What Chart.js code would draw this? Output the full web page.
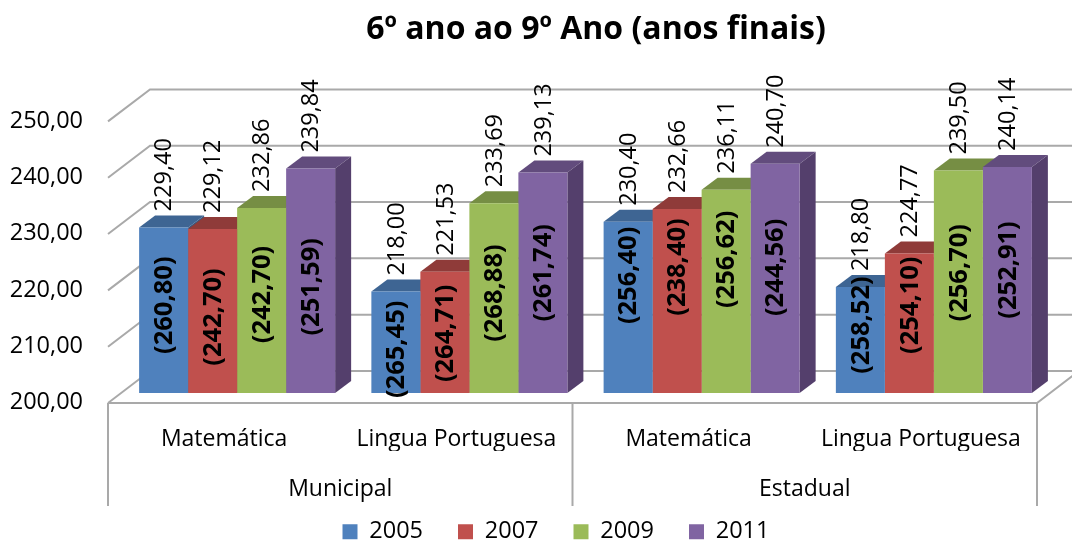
<!DOCTYPE html>
<html><head><meta charset="utf-8">
<style>html,body{margin:0;padding:0;background:#fff}canvas{display:block}</style>
<script src="https://cdn.jsdelivr.net/npm/chart.js@4"></script>
</head><body><canvas id="c" width="1072" height="542"></canvas>
<script>
const subjects = ["Matemática","Lingua Portuguesa","Matemática","Lingua Portuguesa"];
const networks = ["Municipal","Estadual"];
const years = ["2005","2007","2009","2011"];
const values2005 = [229.40,218.00,230.40,218.80];
const values2007 = [229.12,221.53,232.66,224.77];
const values2009 = [232.86,233.69,236.11,239.50];
const values2011 = [239.84,239.13,240.70,240.14];
const notes2005 = [260.80,265.45,256.40,258.52];
const notes2007 = [242.70,264.71,238.40,254.10];
const notes2009 = [242.70,268.88,256.62,256.70];
const notes2011 = [251.59,261.74,244.56,252.91];
const titleText = "6º ano ao 9º Ano (anos finais)";

const FONT = '"Open Sans"';
const fronts = ["#4f81bd","#c0504d","#9bbb59","#8064a2"];
const tops   = ["#3e6593","#8f3b39","#768e44","#624c7d"];
const sides  = ["#375a83","#7f3533","#66793a","#543f6c"];
const DX=16, DY=12, GRID="#a9a9a9";
const notes=[notes2005,notes2007,notes2009,notes2011];
// vertical placement of the bracketed labels relative to the bar's centre (px)
const noteShift=[[-5,7,-32,-15],[6,1,-34,-18],[-6,-5,-32,-9],[6,-10,-11,-10]];
const fmt=v=>Number(v).toFixed(2).replace('.',',');

const depth={
  id:'depth',
  beforeLayout(chart){
    const l=chart.legend;
    if(!l.__wrapped){
      l.__wrapped=true;
      const f=l.fit;
      l.fit=function(){f.call(this); this.height=35;};
    }
  },
  afterLayout(chart){
    chart.titleBlock.left+=71; chart.titleBlock.right+=71;
    chart.titleBlock.top+=1; chart.titleBlock.bottom+=1;
    chart.legend.left+=31; chart.legend.right+=31;
    chart.legend.top-=22; chart.legend.bottom=chart.height;
  },
  beforeDatasetsDraw(chart){
    const c=chart.ctx, y=chart.scales.y, x=chart.scales.x;
    const fx=x.left-13, bx=fx+42, fd=10, bd=-22;
    c.save();
    c.strokeStyle=GRID; c.lineWidth=2;
    y.ticks.forEach(t=>{
      const p=y.getPixelForValue(t.value);
      c.beginPath(); c.moveTo(fx,p+fd); c.lineTo(bx,p+bd);
      if(t.value>y.min) c.lineTo(chart.width,p+bd);
      c.stroke();
    });
    const base=y.getPixelForValue(y.min)+fd;
    const rx=fx+x.width;
    c.beginPath(); c.moveTo(fx,base); c.lineTo(rx,base); c.lineTo(rx+42,base-32); c.stroke();
    c.beginPath(); c.moveTo(bx,base-32); c.lineTo(chart.width,base-32); c.stroke();
    [0,0.5,1].forEach(f=>{
      const vx=fx+x.width*f;
      c.beginPath(); c.moveTo(vx,base); c.lineTo(vx,506); c.stroke();
    });
    for(let i=0;i<subjects.length;i++){
      chart.data.datasets.forEach((d,s)=>{
        const b=chart.getDatasetMeta(s).data[i];
        const l=b.x-b.width/2, r=b.x+b.width/2;
        c.fillStyle=tops[s];
        c.beginPath(); c.moveTo(l,b.y); c.lineTo(l+DX,b.y-DY); c.lineTo(r+DX,b.y-DY); c.lineTo(r,b.y); c.closePath(); c.fill();
        c.fillStyle=sides[s];
        c.beginPath(); c.moveTo(r,b.y); c.lineTo(r+DX,b.y-DY); c.lineTo(r+DX,b.base-DY); c.lineTo(r,b.base); c.closePath(); c.fill();
      });
    }
    c.restore();
  },
  afterDatasetsDraw(chart){
    const c=chart.ctx;
    c.save();
    c.fillStyle="#000"; c.textAlign="center"; c.textBaseline="middle";
    chart.data.datasets.forEach((d,s)=>{
      chart.getDatasetMeta(s).data.forEach((b,i)=>{
        c.save();
        c.translate(b.x+1,b.y-16); c.rotate(-Math.PI/2);
        c.textAlign="left"; c.font=`23.5px ${FONT}`;
        c.fillText(fmt(d.data[i]),0,0);
        c.restore();
        c.save();
        c.translate(b.x+1,(b.y+b.base)/2+noteShift[s][i]); c.rotate(-Math.PI/2);
        c.font=`bold 25.5px ${FONT}`;
        c.fillText("("+fmt(notes[s][i])+")",0,0);
        c.restore();
      });
    });
    c.restore();
  }
};

new Chart(document.getElementById('c'),{
  type:'bar',
  data:{labels:subjects,datasets:[values2005,values2007,values2009,values2011].map((v,i)=>({
    label:years[i],data:v,backgroundColor:fronts[i],borderWidth:0,base:200,
    categoryPercentage:0.844,barPercentage:1
  }))},
  plugins:[depth],
  options:{
    responsive:false,animation:false,
    layout:{padding:{right:22}},
    plugins:{
      title:{display:true,text:titleText,color:"#000",
        font:{family:FONT,size:32,weight:'bold'},padding:{top:10,bottom:63}},
      legend:{position:'bottom',labels:{boxWidth:15,boxHeight:15,padding:35,color:"#000",font:{family:FONT,size:23.5}}},
      tooltip:{enabled:false}
    },
    scales:{
      y:{min:200,max:250,afterFit:s=>{s.width=121},
        grid:{display:false},border:{display:false},
        ticks:{stepSize:10,padding:30,labelOffset:9.5,color:"#000",font:{family:FONT,size:23.5},callback:v=>fmt(v)}},
      x:{afterFit:s=>{s.height=58},grid:{display:false,drawTicks:false},border:{display:false},
        ticks:{padding:33,labelOffset:-13,maxRotation:0,autoSkip:false,color:"#000",font:{family:FONT,size:23}}},
      x2:{type:'category',labels:networks,position:'bottom',offset:true,afterFit:s=>{s.height=56},grid:{display:false,drawTicks:false},border:{display:false},
        ticks:{padding:25,labelOffset:-13,maxRotation:0,autoSkip:false,color:"#000",font:{family:FONT,size:23}}}
    }
  }
});
</script></body></html>
